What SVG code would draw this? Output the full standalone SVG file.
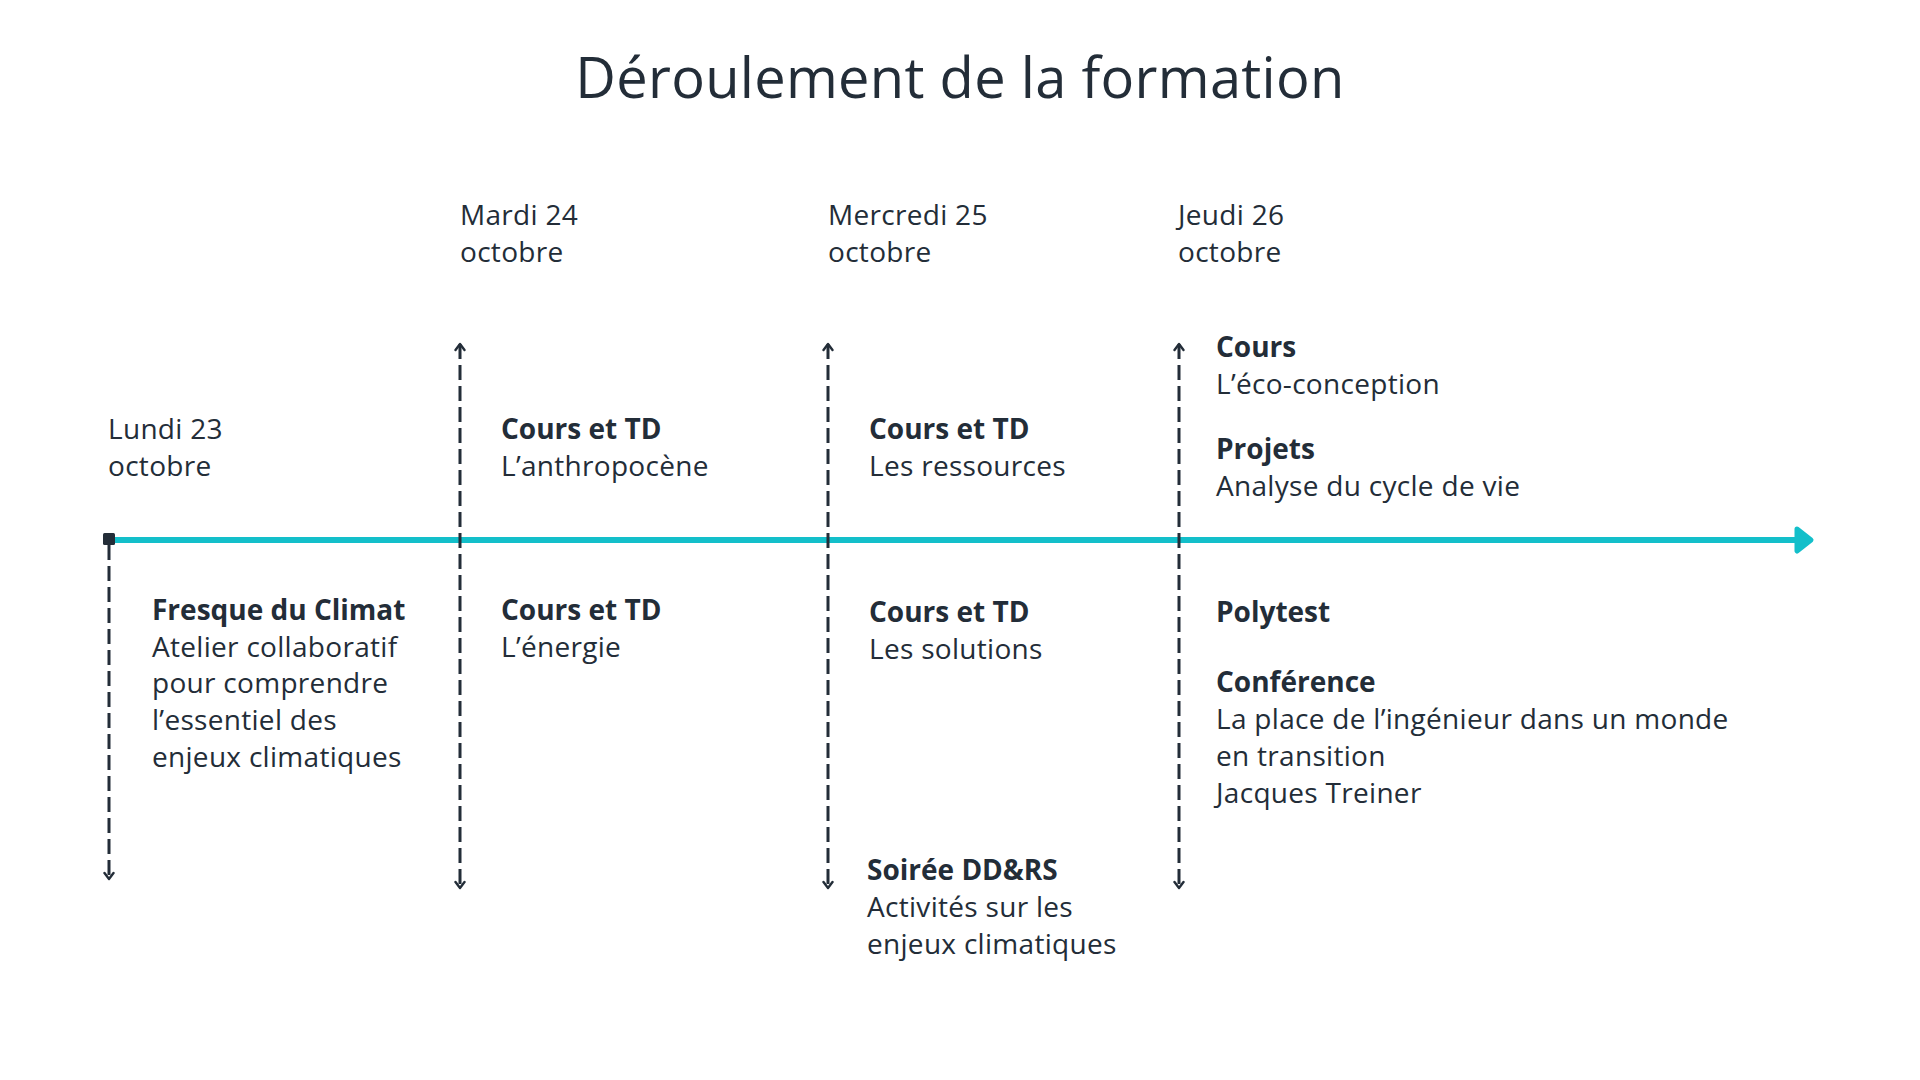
<svg xmlns="http://www.w3.org/2000/svg" width="1920" height="1080" viewBox="0 0 1920 1080">
<style>
text{font-family:"Open Sans","Noto Sans","Liberation Sans",sans-serif;fill:#232d38;font-size:28px;letter-spacing:0.3px}
.t{font-size:56px;text-anchor:middle;letter-spacing:0.3px}
.b{font-weight:700;letter-spacing:0}
.dash{stroke:#232d38;stroke-width:3;stroke-dasharray:15 6;fill:none}
</style>
<defs>
<marker id="chev" viewBox="0 0 12 12" refX="10" refY="6" markerWidth="12" markerHeight="12" markerUnits="userSpaceOnUse" orient="auto-start-reverse">
<path d="M4,1.5 L10,6 L4,10.5" fill="none" stroke="#232d38" stroke-width="2.4" stroke-linecap="round" stroke-linejoin="round"/>
</marker>
</defs>
<rect width="1920" height="1080" fill="#ffffff"/>
<text class="t" x="960" y="98">Déroulement de la formation</text>
<g id="connectors">
<line x1="109" y1="540" x2="1800" y2="540" stroke="#13bfca" stroke-width="6"/>
<polygon points="1797,529 1811,540 1797,551" fill="#13bfca" stroke="#13bfca" stroke-width="5" stroke-linejoin="round"/>
<line class="dash" x1="109" y1="545" x2="109" y2="879" marker-end="url(#chev)"/>
<line class="dash" x1="460" y1="344" x2="460" y2="888" marker-start="url(#chev)" marker-end="url(#chev)"/>
<line class="dash" x1="828" y1="344" x2="828" y2="888" marker-start="url(#chev)" marker-end="url(#chev)"/>
<line class="dash" x1="1179" y1="344" x2="1179" y2="888" marker-start="url(#chev)" marker-end="url(#chev)"/>
<rect x="103" y="533" width="12" height="12" rx="1.5" fill="#232d38"/>
</g>
<g id="day-lundi"><text x="108" y="439">Lundi 23</text><text x="108" y="476">octobre</text></g>
<g id="day-mardi"><text x="460" y="225">Mardi 24</text><text x="460" y="262">octobre</text></g>
<g id="day-mercredi"><text x="828" y="225">Mercredi 25</text><text x="828" y="262">octobre</text></g>
<g id="day-jeudi"><text x="1178" y="225">Jeudi 26</text><text x="1178" y="262">octobre</text></g>
<g id="fresque"><text class="b" x="152" y="620">Fresque du Climat</text><text x="152" y="657">Atelier collaboratif</text><text x="152" y="693">pour comprendre</text><text x="152" y="730">l’essentiel des</text><text x="152" y="767">enjeux climatiques</text></g>
<g id="anthropocene"><text class="b" x="501" y="439">Cours et TD</text><text x="501" y="476">L’anthropocène</text></g>
<g id="energie"><text class="b" x="501" y="620">Cours et TD</text><text x="501" y="657">L’énergie</text></g>
<g id="ressources"><text class="b" x="869" y="439">Cours et TD</text><text x="869" y="476">Les ressources</text></g>
<g id="solutions"><text class="b" x="869" y="622">Cours et TD</text><text x="869" y="659">Les solutions</text></g>
<g id="soiree"><text class="b" x="867" y="880">Soirée DD&amp;RS</text><text x="867" y="917">Activités sur les</text><text x="867" y="954">enjeux climatiques</text></g>
<g id="eco"><text class="b" x="1216" y="357">Cours</text><text x="1216" y="394">L’éco-conception</text></g>
<g id="projets"><text class="b" x="1216" y="459">Projets</text><text x="1216" y="496">Analyse du cycle de vie</text></g>
<g id="polytest"><text class="b" x="1216" y="622">Polytest</text></g>
<g id="conference"><text class="b" x="1216" y="692">Conférence</text><text x="1216" y="729">La place de l’ingénieur dans un monde</text><text x="1216" y="766">en transition</text><text x="1216" y="803">Jacques Treiner</text></g>
</svg>
